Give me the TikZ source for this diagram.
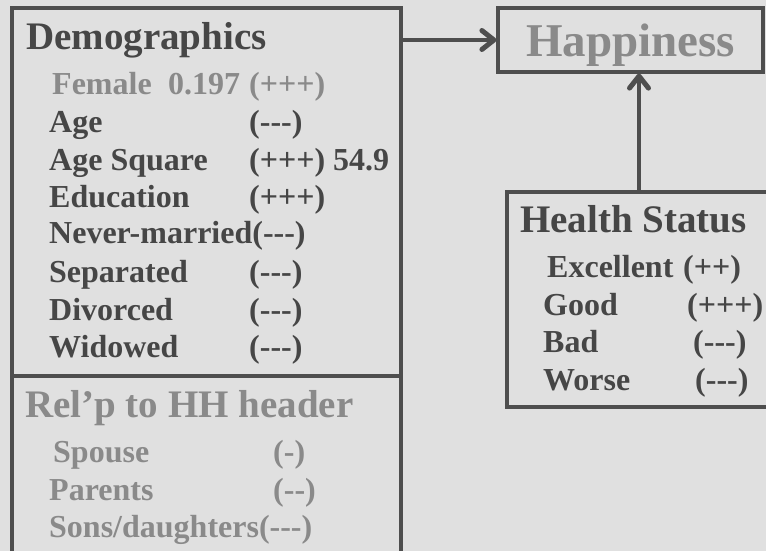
\documentclass[tikz,border=0pt]{standalone}
\usepackage{fontspec}
\setmainfont{Liberation Serif}
\usetikzlibrary{arrows.meta}
\definecolor{bggray}{RGB}{224,224,224}
\definecolor{boxgray}{RGB}{78,78,78}
\definecolor{textdark}{RGB}{70,70,70}
\definecolor{textlight}{RGB}{138,138,138}

\begin{document}
\begin{tikzpicture}[
    x=1pt, y=-1pt,
    box/.style={rectangle, draw=boxgray, line width=3.2pt, inner sep=0pt},
    heading/.style={anchor=base west, inner sep=0pt, font=\fontsize{39}{39}\selectfont\bfseries, text=textdark},
    entry/.style={anchor=base west, inner sep=0pt, font=\fontsize{32}{32}\selectfont\bfseries, text=textdark},
    faded/.style={text=textlight},
    arrow/.style={-{Straight Barb[length=12pt, width=19pt, line width=5pt, round]}, line width=3.2pt, boxgray}
]
% Canvas
\fill[bggray] (0,0) rectangle (766,551);
\useasboundingbox (0,0) rectangle (766,551);
\clip (0,0) rectangle (766,551);

% Boxes
\node[box, minimum width=389pt, minimum height=368pt] (demo) at (206.5,192) {};
\node[box, minimum width=389pt, minimum height=200pt] (relp) at (206.5,476) {};
\node[box, minimum width=265pt, minimum height=64pt, text=textlight, text depth=0pt,
      font=\fontsize{47}{47}\selectfont\bfseries] (happy) at (630.5,40) {Happiness};
\node[box, minimum width=264pt, minimum height=215pt] (health) at (639,299.5) {};

% Arrows
\draw[arrow] (happy.west -| demo.east) -- (happy.west);
\draw[arrow] (health.north) -- (health.north |- happy.south);

% Demographics
\node[heading] (demotitle) at (26,50) {Demographics};
\node[entry, faded] (female) at (52,95) {Female};
\node[entry, faded] (femalecoef) at (168,95) {0.197};
\node[entry, faded] (femalesign) at (249,95) {(+++)};
\node[entry] (age) at (49,132) {Age};
\node[entry] (agesign) at (249,132) {(-{}-{}-)};
\node[entry] (agesq) at (49,170) {Age Square};
\node[entry] (agesqsign) at (249,170) {(+++) 54.9};
\node[entry] (edu) at (49,207) {Education};
\node[entry] (edusign) at (249,207) {(+++)};
\node[entry] (never) at (49,243) {Never-married(-{}-{}-)};
\node[entry] (sep) at (49,282) {Separated};
\node[entry] (sepsign) at (249,282) {(-{}-{}-)};
\node[entry] (div) at (49,320) {Divorced};
\node[entry] (divsign) at (249,320) {(-{}-{}-)};
\node[entry] (wid) at (49,357) {Widowed};
\node[entry] (widsign) at (249,357) {(-{}-{}-)};

% Relationship to household head
\node[heading, faded] (relptitle) at (25,417) {Rel'p to HH header};
\node[entry, faded] (spouse) at (53,462) {Spouse};
\node[entry, faded] (spousesign) at (273,462) {(-)};
\node[entry, faded] (parents) at (49,500) {Parents};
\node[entry, faded] (parentssign) at (273,500) {(-{}-)};
\node[entry, faded] (sons) at (49,537) {Sons/daughters(-{}-{}-)};

% Health status
\node[heading] (healthtitle) at (520,232) {Health Status};
\node[entry] (exc) at (547,277) {Excellent};
\node[entry] (excsign) at (683,277) {(++)};
\node[entry] (good) at (543,315) {Good};
\node[entry] (goodsign) at (687,315) {(+++)};
\node[entry] (bad) at (543,352) {Bad};
\node[entry] (badsign) at (693,352) {(-{}-{}-)};
\node[entry] (worse) at (543,390) {Worse};
\node[entry] (worsesign) at (695,390) {(-{}-{}-)};
\end{tikzpicture}
\end{document}
